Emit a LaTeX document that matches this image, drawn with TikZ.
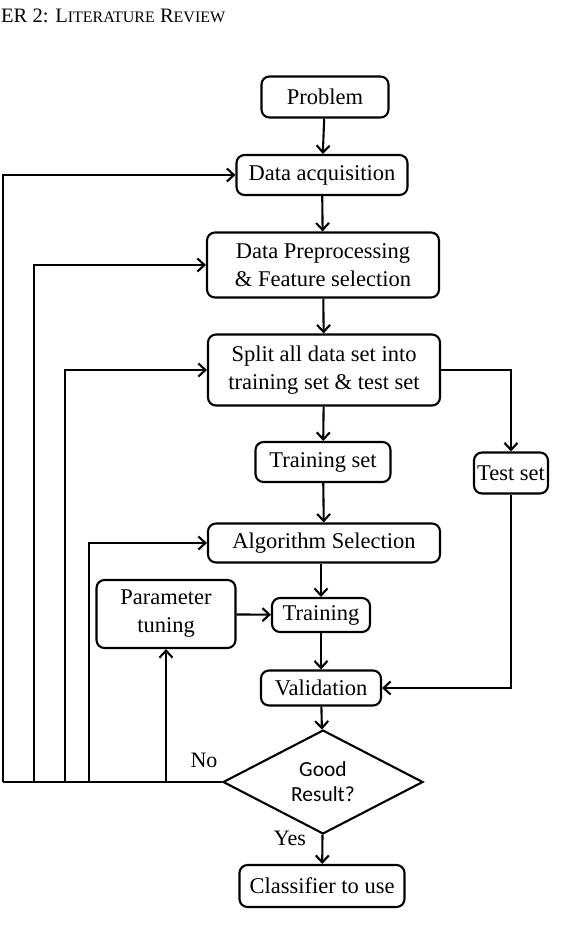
\documentclass[tikz,border=0pt]{standalone}
\usepackage{fontspec}
\setmainfont{Liberation Serif}
\newfontfamily\calibrifont{Carlito}
\usetikzlibrary{shapes.geometric,arrows.meta}
\begin{document}
\begin{tikzpicture}[x=1pt,y=-1pt,
  box/.style={draw,line width=2.1pt,rounded corners=8pt,inner sep=0pt,align=center,
    font=\fontsize{22.5}{28}\selectfont},
  link/.style={line width=2.1pt,-{Straight Barb[length=7pt,width=13pt]}},
  plain/.style={line width=2.1pt},
  lbl/.style={font=\fontsize{22}{24}\selectfont,inner sep=0pt}]
\useasboundingbox (0,0) rectangle (570,940);
\node[anchor=west,inner sep=0pt] (hdr) at (1,16) {\fontsize{20.5}{22}\selectfont ER 2: L{\fontsize{16}{18}\selectfont ITERATURE} R{\fontsize{16}{18}\selectfont EVIEW}};
\node[box,minimum width=127pt,minimum height=41pt] (prob) at (325,97) {Problem};
\node[box,minimum width=171pt,minimum height=40pt] (acq) at (322,175) {Data acquisition};
\node[box,minimum width=232pt,minimum height=65pt] (prep) at (323,265) {Data Preprocessing\\\& Feature selection};
\node[box,minimum width=232pt,minimum height=71pt] (split) at (324,370) {Split all data set into\\training set \& test set};
\node[box,minimum width=135pt,minimum height=40pt] (train) at (323,462) {Training set};
\node[box,minimum width=74pt,minimum height=41pt] (test) at (511,473) {Test set};
\node[box,minimum width=232pt,minimum height=39pt] (alg) at (324,543) {Algorithm Selection};
\node[box,minimum width=139pt,minimum height=68pt] (param) at (166,614) {Parameter\\tuning};
\node[box,minimum width=98pt,minimum height=34pt] (tr) at (321,615) {Training};
\node[box,minimum width=120pt,minimum height=35pt] (val) at (321,688) {Validation};
\node[draw,diamond,line width=2.1pt,minimum width=200pt,minimum height=86pt,inner sep=0pt,align=center,
  font=\calibrifont\fontsize{21.5}{25}\selectfont] (dec) at (323,782) {Good\\Result?};
\node[box,minimum width=165pt,minimum height=42pt] (cls) at (322,886) {Classifier to use};
\node[lbl] (no) at (204,760) {No};
\node[lbl] (yes) at (290,838) {Yes};
\coordinate (f1) at (3,782);
\coordinate (f2) at (34,782);
\coordinate (f3) at (65,782);
\coordinate (f4) at (89,782);
\coordinate (f5) at (166,782);
\draw[link] (prob) -- (acq);
\draw[link] (acq) -- (prep);
\draw[link] (prep) -- (split);
\draw[link] (split) -- (train);
\draw[link] (train) -- (alg);
\draw[link] (alg.south -| tr.north) -- (tr);
\draw[link] (tr) -- (val);
\draw[link] (val) -- (dec);
\draw[link] (dec) -- (cls);
\draw[link] (param) -- (tr);
\draw[link] (split.east) -| (test.north);
\draw[link] (test.south) |- (val.east);
\draw[plain] (dec.west) -- (f1);
\draw[link] (f1) |- (acq.west);
\draw[link] (f2) |- (prep.west);
\draw[link] (f3) |- (split.west);
\draw[link] (f4) |- (alg.west);
\draw[link] (f5) -- (param.south);
\end{tikzpicture}
\end{document}
